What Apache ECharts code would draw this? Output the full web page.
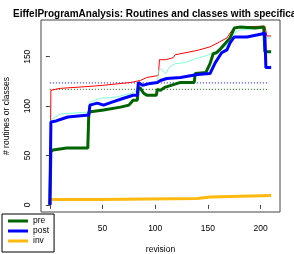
<!DOCTYPE html>
<html><head><meta charset="utf-8">
<script src="https://cdn.jsdelivr.net/npm/echarts@6/dist/echarts.min.js"></script>
<style>html,body{margin:0;padding:0;background:#fff}#c{width:294px;height:254px}</style>
</head><body><div id="c"></div>
<script>
const titleText = "EiffelProgramAnalysis: Routines and classes with specifications";
const xTicks = [0, 50, 100, 150, 200];
const yTicks = [0, 50, 100, 150];
const legendNames = ["pre", "post", "inv"];
// [revision, count]
const pre = [[0,0],[1,54],[3,55.5],[16,57.5],[36,57.5],[37,94],[38,96],[51,96],[67,99],[75,101],[79,106],[83,106],[84,119],[86,118],[89,113],[92,111],[101,111],[102,117],[105,116],[109,119],[118,122],[124,124],[137,124],[138,133],[148,134],[152,143],[155,153],[158,154],[162,158],[166,163],[171,169],[175,179],[180,180],[195,179],[203,180],[204,155],[210,155]];
const post = [[0,0],[1,84],[6,85],[17,89],[37,91],[38,101],[45,103],[51,101],[59,104],[70,108],[79,111],[83,111],[84,124],[88,121],[95,123],[102,124],[105,126],[111,128],[124,129],[140,132],[152,133],[157,144],[160,149],[163,154],[168,157],[171,164],[175,170],[187,170],[201,173],[204,174],[205,139],[210,139]];
const inv = [[0,0],[1,5.5],[48,5.5],[49,6.5],[140,6.5],[141,8],[152,8],[153,9.5],[210,9.5]];
const total = [[0,0],[1,116],[5,117],[10,118],[38,120],[50,121],[77,124],[86,126],[92,129],[103,131],[104,147],[110,147],[117,149],[119,152],[138,156],[142,157],[152,160],[161,165],[168,169],[171,174],[173,177],[178,180],[204,181],[206,171],[210,171]];
const withSpec = [[0,0],[1,86],[10,92],[23,93],[37,94],[38,104],[48,108],[62,109],[77,113],[83,116],[84,123],[90,121],[102,123],[103,136],[105,138],[110,133],[113,139],[119,143],[128,144],[138,148],[142,149],[148,151],[157,155],[166,160],[171,166],[175,174],[180,177],[203,179],[205,169],[210,169]];
const postRef = [[0,123.5],[208,123.5]];
const preRef = [[0,117],[208,117]];

const FONT = "Liberation Sans";
const chart = echarts.init(document.getElementById('c'), null, {renderer: 'canvas'});
function ln(name, data, color, width, extra) {
  return Object.assign({type: 'line', name, data, showSymbol: false, symbol: 'none', animation: false,
    lineStyle: {color, width}, itemStyle: {color}}, extra || {});
}
chart.setOption({
  animation: false,
  graphic: [{type: 'text', left: 13, top: 9, style: {text: titleText, font: 'bold 10px ' + FONT, fill: '#000'}}],
  grid: {left: 41, right: 14, top: 20, bottom: 42, show: true, borderColor: '#444', borderWidth: 1, backgroundColor: 'transparent', outerBoundsMode: 'none', containLabel: false},
  legend: {data: legendNames, left: 2, top: 214, orient: 'vertical', padding: [2, 5, 6, 6], itemGap: 0, itemWidth: 20, itemHeight: 3, icon: 'rect',
    borderColor: '#000', borderWidth: 1, backgroundColor: '#fff', borderRadius: 0,
    textStyle: {fontFamily: FONT, fontSize: 8.5, color: '#000', lineHeight: 10, padding: [0, 0, 0, 0]}, selectedMode: false},
  xAxis: {type: 'value', min: -8.4, max: 218.4, name: 'revision', nameLocation: 'middle', nameGap: 33, nameMoveOverlap: false,
    nameTextStyle: {fontFamily: FONT, fontSize: 8.5, color: '#000'},
    axisLine: {show: false}, splitLine: {show: false},
    axisTick: {show: true, length: 4, customValues: xTicks, lineStyle: {color: '#444'}},
    axisLabel: {customValues: xTicks, fontFamily: FONT, fontSize: 8.5, color: '#000', margin: 12}},
  yAxis: {type: 'value', min: -7.2, max: 187.2, name: '# routines or classes', nameLocation: 'middle', nameGap: 30, nameMoveOverlap: false,
    nameTextStyle: {fontFamily: FONT, fontSize: 8.5, color: '#000'},
    axisLine: {show: false}, splitLine: {show: false},
    axisTick: {show: true, length: 4, customValues: yTicks, lineStyle: {color: '#444'}},
    axisLabel: {customValues: yTicks, fontFamily: FONT, fontSize: 8.5, color: '#000', margin: 9, rotate: 90}},
  series: [
    ln('postRef', postRef, '#0000FF', 1, {lineStyle: {color: '#0000FF', width: 1, type: [1, 2]}}),
    ln('preRef', preRef, '#006400', 1, {lineStyle: {color: '#006400', width: 1, type: [1, 2]}}),
    ln('total', total, '#FF0000', 1),
    ln('withSpec', withSpec, '#7FFFD4', 1),
    ln('inv', inv, '#FFB90F', 3),
    ln('pre', pre, '#006400', 3),
    ln('post', post, '#0000FF', 3)
  ]
});
</script></body></html>
